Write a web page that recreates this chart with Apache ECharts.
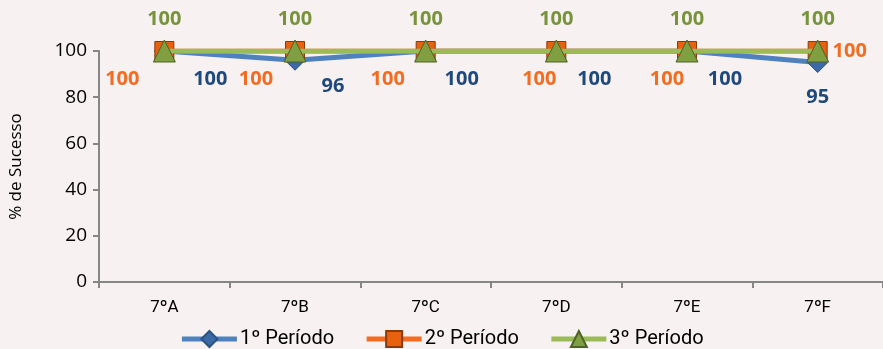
<!DOCTYPE html>
<html>
<head>
<meta charset="utf-8">
<script src="https://cdn.jsdelivr.net/npm/echarts@6/dist/echarts.min.js"></script>
<style>
  html, body { margin: 0; padding: 0; background: #f7f1f1; }
  #chart { width: 883px; height: 349px; }
</style>
</head>
<body>
<div id="chart"></div>
<script>
const categories = ['7ºA', '7ºB', '7ºC', '7ºD', '7ºE', '7ºF'];
const periodo1 = [100, 96, 100, 100, 100, 95];
const periodo2 = [100, 100, 100, 100, 100, 100];
const periodo3 = [100, 100, 100, 100, 100, 100];
const seriesNames = ['1º Período', '2º Período', '3º Período'];

// label placement per point (reference has labels nudged around the markers)
const offsets1 = [[46, 28], [38, 26], [36, 28], [38, 28], [38, 28], [0, 35]];
const offsets2 = [[-42, 28], [-39, 28], [-38, 28], [-17, 28], [-20, 28], [32, 0]];

const labelFont = { fontFamily: 'Open Sans', fontWeight: 'bold', fontSize: 20 };
const narrow = 'Roboto';

function withOffsets(values, offsets) {
  return values.map((v, i) => ({ value: v, label: { offset: offsets[i] } }));
}

const chart = echarts.init(document.getElementById('chart'));
chart.setOption({
  backgroundColor: '#f7f1f1',
  animation: false,
  grid: { left: 97, right: 0, top: 51, bottom: 67 },
  legend: {
    top: 324,
    left: 'center',
    itemWidth: 55,
    itemHeight: 20,
    itemGap: 30,
    lineStyle: { width: 5 },
    textStyle: { fontFamily: narrow, fontSize: 20, color: '#000', padding: [0, 0, 0, -2] },
    data: seriesNames
  },
  xAxis: {
    type: 'category',
    data: categories,
    boundaryGap: true,
    axisLine: { lineStyle: { color: '#868686', width: 2 } },
    axisTick: { show: true, length: 6, lineStyle: { color: '#868686', width: 2 } },
    axisLabel: { color: '#000', fontFamily: narrow, fontSize: 17, margin: 17 }
  },
  yAxis: {
    type: 'value',
    min: 0,
    max: 100,
    interval: 20,
    name: '% de Sucesso',
    nameLocation: 'middle',
    nameGap: 74,
    nameTextStyle: { fontFamily: 'Open Sans', fontSize: 17, color: '#000' },
    axisLine: { show: true, lineStyle: { color: '#868686', width: 2 } },
    axisTick: { show: true, length: 6, lineStyle: { color: '#868686', width: 2 } },
    axisLabel: { color: '#000', fontFamily: 'Open Sans', fontSize: 19, margin: 12 },
    splitLine: { show: false }
  },
  series: [
    {
      name: seriesNames[0],
      type: 'line',
      data: withOffsets(periodo1, offsets1),
      symbol: 'diamond',
      symbolSize: 20,
      color: '#4f81bd',
      lineStyle: { width: 5, color: '#4f81bd' },
      itemStyle: { color: '#3b6aa6', borderColor: '#2c5283', borderWidth: 1 },
      label: { show: true, position: 'inside', color: '#1f497d', ...labelFont },
      z: 2
    },
    {
      name: seriesNames[1],
      type: 'line',
      data: withOffsets(periodo2, offsets2),
      symbol: 'rect',
      symbolSize: 19,
      color: '#f26d21',
      lineStyle: { width: 5, color: '#f26d21' },
      itemStyle: { color: '#e8610f', borderColor: '#8a3a08', borderWidth: 1 },
      label: { show: true, position: 'inside', color: '#f26d21', ...labelFont },
      z: 3
    },
    {
      name: seriesNames[2],
      type: 'line',
      data: periodo3,
      symbol: 'triangle',
      symbolSize: 22,
      color: '#9bbb59',
      lineStyle: { width: 5, color: '#9bbb59' },
      itemStyle: { color: '#7f9f41', borderColor: '#4f6228', borderWidth: 1 },
      label: { show: true, position: 'top', distance: 10, color: '#77933c', ...labelFont },
      z: 4
    }
  ]
});
</script>
</body>
</html>
